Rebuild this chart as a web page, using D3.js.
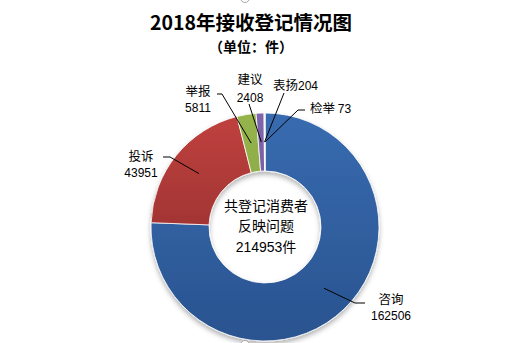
<!DOCTYPE html>
<html>
<head>
<meta charset="utf-8">
<script src="https://cdn.jsdelivr.net/npm/d3@7"></script>
<style>
  html, body { margin: 0; padding: 0; background: #fff; }
  svg { display: block; }
  text { font-family: "Noto Sans CJK SC", "Noto Sans", sans-serif; fill: #000; }
  .num { font-family: "Liberation Sans", Arial, sans-serif; }
</style>
</head>
<body>
<svg id="chart" width="523" height="343"></svg>
<script>
// Registration categories and counts for 2018
const categories = ["咨询", "投诉", "举报", "建议", "表扬", "检举"];
const counts = [162506, 43951, 5811, 2408, 204, 73];

// Per-slice fills: [top colour, bottom colour]
const sliceColors = [
  ["#386bb0", "#29538f"],
  ["#c0413e", "#84292a"],
  ["#96b44c", "#7d9b3b"],
  ["#7f65ab", "#6a5193"],
  ["#4bacc6", "#3b8ea6"],
  ["#f79646", "#d97a2c"]
];

// Label placement: name/value layout and leader path (elbow + hook end)
const labelLayout = [
  { stacked: true, x: 391, y: 304, lh: 15.5, anchor: "middle", elbow: [355, 303], hook: [365, 303] },
  { stacked: true, x: 141, y: 161, lh: 15.5, anchor: "middle", elbow: [170, 157], hook: [163, 157] },
  { stacked: true, x: 198, y: 96, lh: 16, anchor: "middle", elbow: [222, 94], hook: [217, 94] },
  { stacked: true, x: 250, y: 84, lh: 18, anchor: "middle", elbow: [249, 104], hook: null },
  { stacked: false, sep: "", x: 273, y: 90, anchor: "start", elbow: [284, 93], hook: null },
  { stacked: false, sep: " ", x: 310, y: 113, anchor: "start", elbow: [298, 110], hook: [305, 110] }
];

const titleText = "2018年接收登记情况图";
const subtitleText = "（单位：件）";
const centerLines = ["共登记消费者", "反映问题"];

const svg = d3.select("#chart");
const cx = 265, cy = 227, rOuter = 114, rInner = 56;

const defs = svg.append("defs");
sliceColors.forEach((c, i) => {
  const g = defs.append("linearGradient")
    .attr("id", "grad" + i)
    .attr("gradientUnits", "userSpaceOnUse")
    .attr("x1", 0).attr("y1", -rOuter)
    .attr("x2", 0).attr("y2", rOuter);
  g.append("stop").attr("offset", "0%").attr("stop-color", c[0]);
  g.append("stop").attr("offset", "100%").attr("stop-color", c[1]);
});
const shadow = defs.append("filter").attr("id", "shadow")
  .attr("x", "-20%").attr("y", "-20%").attr("width", "140%").attr("height", "140%");
shadow.append("feDropShadow")
  .attr("dx", 0).attr("dy", 3).attr("stdDeviation", 2.5)
  .attr("flood-color", "#000").attr("flood-opacity", 0.3);

// Title
svg.append("text")
  .attr("x", 251).attr("y", 30)
  .attr("text-anchor", "middle")
  .attr("font-size", 19.5).attr("font-weight", "bold")
  .text(titleText);
svg.append("text")
  .attr("x", 251).attr("y", 52)
  .attr("text-anchor", "middle")
  .attr("font-size", 14).attr("font-weight", "bold")
  .text(subtitleText);

// Donut
const data = categories.map((c, i) => ({ name: c, value: counts[i], i }));
const pie = d3.pie().value(d => d.value).sort(null).startAngle(0).endAngle(2 * Math.PI);
const arcs = pie(data);
const arc = d3.arc().innerRadius(rInner).outerRadius(rOuter);
const mid = d3.arc().innerRadius((rInner + rOuter) / 2).outerRadius((rInner + rOuter) / 2);

svg.append("g")
  .attr("transform", `translate(${cx},${cy})`)
  .attr("filter", "url(#shadow)")
  .selectAll("path")
  .data(arcs)
  .join("path")
  .attr("d", arc)
  .attr("fill", d => `url(#grad${d.data.i})`)
  .attr("stroke", "#fff")
  .attr("stroke-width", 0.8);

// Leader lines and labels
const lg = svg.append("g");
arcs.forEach((d, k) => {
  const L = labelLayout[k];
  const c = mid.centroid(d);
  const pts = [[cx + c[0], cy + c[1]], L.elbow];
  if (L.hook) pts.push(L.hook);
  lg.append("path")
    .attr("d", d3.line()(pts))
    .attr("fill", "none")
    .attr("stroke", "#000")
    .attr("stroke-width", 1);
  if (L.stacked) {
    lg.append("text")
      .attr("x", L.x).attr("y", L.y)
      .attr("text-anchor", L.anchor)
      .attr("font-size", 12.5)
      .text(d.data.name);
    lg.append("text")
      .attr("class", "num")
      .attr("x", L.x).attr("y", L.y + L.lh)
      .attr("text-anchor", L.anchor)
      .attr("font-size", 12)
      .text(d.data.value);
  } else {
    const t = lg.append("text")
      .attr("x", L.x).attr("y", L.y)
      .attr("text-anchor", L.anchor)
      .attr("font-size", 12.5);
    t.append("tspan").text(d.data.name + L.sep);
    t.append("tspan").attr("class", "num").attr("font-size", 12).text(d.data.value);
  }
});

// Centre caption with the total
const total = d3.sum(counts);
const lineGap = 20.4;
const ct = svg.append("text")
  .attr("x", 266).attr("y", 211)
  .attr("text-anchor", "middle")
  .attr("font-size", 14);
centerLines.forEach((s, j) => {
  ct.append("tspan").attr("x", 266).attr("dy", j === 0 ? 0 : lineGap).text(s);
});
const last = ct.append("tspan").attr("x", 266).attr("dy", lineGap);
last.append("tspan").attr("class", "num").attr("font-size", 14).text(total);
last.append("tspan").text("件");

// Chart-area selection handles
[[245, -2], [245, 345]].forEach(p => {
  svg.append("circle")
    .attr("cx", p[0]).attr("cy", p[1]).attr("r", 4.5)
    .attr("fill", "#fff").attr("stroke", "#aaa").attr("stroke-width", 1);
});
</script>
</body>
</html>
